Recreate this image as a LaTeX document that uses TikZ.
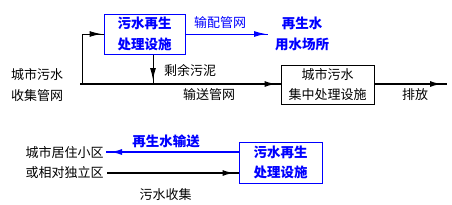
\documentclass[tikz,border=0pt]{standalone}
\usepackage{fontspec}
\setmainfont{Noto Sans CJK SC}
\usetikzlibrary{arrows.meta,decorations.markings}
\definecolor{myblue}{RGB}{0,0,255}
\begin{document}
\begin{tikzpicture}[x=1pt,y=-1pt,
  txt/.style={font=\fontsize{13}{20.5}\selectfont, inner sep=0pt, align=center},
  btxt/.style={font=\fontsize{13.5}{20.5}\selectfont\bfseries, inner sep=0pt, align=center, text=myblue},
  bluebox/.style={draw=myblue, line width=1pt, minimum width=81pt, minimum height=40pt, inner sep=0pt},
  blackbox/.style={draw=black, line width=1pt, minimum width=93pt, minimum height=39pt, inner sep=0pt},
  tipat/.style={postaction={decorate}, decoration={markings, mark=at position #1 with {\arrow{Latex[length=12pt,width=6pt]}}}},
  thin/.style={line width=1pt},
  thick/.style={line width=2pt}
]
\useasboundingbox (0,0) rectangle (452,204);
% boxes
\node[bluebox, btxt] (top) at (144.5,34) {污水再生\\处理设施};
\node[blackbox, txt] (cen) at (327.5,84.5) {城市污水\\集中处理设施};
\node[bluebox, btxt, minimum width=83pt, minimum height=41pt] (bot) at (280.5,162.5) {污水再生\\处理设施};
% texts
\node[txt] (src) at (37,85) {城市污水\\收集管网};
\node[txt] (sludge) at (190,70) {剩余污泥};
\node[txt] (trans) at (209,95) {输送管网};
\node[txt, text=myblue] (dist) at (220,23) {输配管网};
\node[btxt] (use) at (302,34) {再生水\\用水场所};
\node[txt] (dis) at (415,95) {排放};
\node[txt] (res) at (64.5,162.5) {城市居住小区\\或相对独立区};
\node[btxt] (rt) at (166,141) {再生水输送};
\node[txt] (col) at (165.5,195) {污水收集};
% coordinates
\coordinate (mL) at (80,84);
\coordinate (j1) at (82,84);
\coordinate (j2) at (153,84);
\coordinate (out) at (447,84);
\coordinate (bt) at (268,34);
\coordinate (bl1) at (106,152);
\coordinate (bl2) at (107,173);
% connectors
\draw[thick, tipat=-4pt] (mL) -- (mL -| cen.west);
\draw[thin, tipat=-2pt] (j1) |- (top.west);
\draw[thin, tipat=-4pt] (j2 |- top.south) -- (j2);
\draw[thick, tipat=-5pt] (cen.east |- out) -- (out);
\draw[thin, draw=myblue, tipat=-2pt] (top.east |- bt) -- (bt);
\draw[thick, draw=myblue, tipat=-4pt] (bot.west |- bl1) -- (bl1);
\draw[thick, tipat=-4pt] (bl2) -- (bl2 -| bot.west);
\end{tikzpicture}
\end{document}
